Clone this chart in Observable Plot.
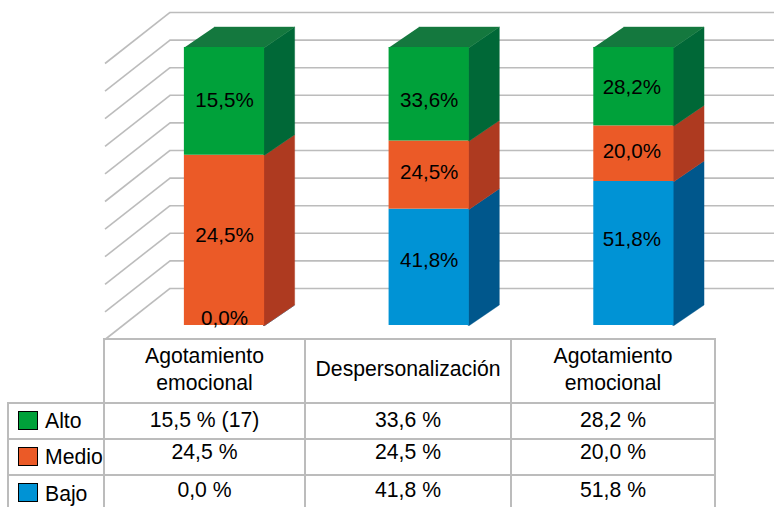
<!DOCTYPE html>
<html>
<head>
<meta charset="utf-8">
<script src="https://cdn.jsdelivr.net/npm/d3@7"></script>
<script src="https://cdn.jsdelivr.net/npm/@observablehq/plot@0.6"></script>
<style>
  html, body { margin: 0; padding: 0; background: #fff; overflow: hidden; }
  body { width: 774px; height: 507px; font-family: "Liberation Sans", Arial, sans-serif; color: #000; }
  svg { display: block; }
  table { border-collapse: collapse; table-layout: fixed; width: 707px; margin: -1.5px 0 0 7px; font-size: 21.2px; }
  td { border: 2px solid #bcbcbc; padding: 0; text-align: center; white-space: nowrap; line-height: 27px; box-sizing: border-box; overflow: visible; }
  td.blank { border-top: none; border-left: none; }
  td.legend { text-align: left; padding-left: 9px; }
  .swatch { display: inline-block; width: 18px; height: 17px; border: 1px solid #000; margin-right: 7px; vertical-align: -2px; box-sizing: content-box; }
  tr.head { height: 64px; }
  tr.row { height: 36px; }
  .head span { position: relative; top: -2px; }
  .r0 { position: relative; top: -1px; }
  .r1 { position: relative; top: -5px; }
  .r2 { position: relative; top: -3px; }
  .key2 { position: relative; top: 1px; }
</style>
</head>
<body>
<div id="chart"></div>
<table id="tbl"></table>
<script>
// ---------- data ----------
const categories = ["Agotamiento\nemocional", "Despersonalización", "Agotamiento\nemocional"];
const levels = ["Alto", "Medio", "Bajo"];
const alto  = [15.5, 33.6, 28.2];
const medio = [24.5, 24.5, 20.0];
const bajo  = [0.0, 41.8, 51.8];
const altoTableText  = ["15,5 % (17)", "33,6 %", "28,2 %"];
const medioTableText = ["24,5 %", "24,5 %", "20,0 %"];
const bajoTableText  = ["0,0 %", "41,8 %", "51,8 %"];
const gridTicks = [0, 10, 20, 30, 40, 50, 60, 70, 80, 90, 100];

// ---------- styles ----------
const frontColor = {Alto: "#00a13a", Medio: "#eb5a27", Bajo: "#0093d5"};
const sideColor  = {Alto: "#006837", Medio: "#ae3a20", Bajo: "#00578c"};
const topColor = "#14783e";
const gridColor = "#bcbcbc";

// ---------- layout, in scale units ----------
const W = 774, H = 339;
const halfBar = 0.196, depthX = 0.1466, depthY = 7.37;       // bar width and 3D depth
const seamOverlap = 0.006;                                   // side face tucks under the front face
const wallX = -0.2662, floorDepthX = 0.3175, floorDepthY = 18.35;
const wallBase = 13.31, wallScale = 0.9928;
const xDomain = [-1.0943, 2.6868], yDomain = [-5.04, 116.9];
const unitsPerPixel = 1 / 2.78;
// label shifts from the segment middle: [Alto, Medio, Bajo] per bar (pixels, + is down)
const labelNudge = [[-1, -5, -7], [6, -3, -7], [1, -2, -14]];
const labelNudgeX = [0, 0, -0.01];

// ---------- derived stacks (each bar is drawn as share of its own total) ----------
const series = {Alto: alto, Medio: medio, Bajo: bajo};
const segments = [];
categories.forEach((_, i) => {
  const total = alto[i] + medio[i] + bajo[i];
  let base = 0;
  ["Bajo", "Medio", "Alto"].forEach(level => {
    const v = series[level][i];
    const y1 = base, y2 = base + v / total * 100;
    segments.push({i, level, v, y1, y2});
    base = y2;
  });
});

const polygons = [];
segments.forEach(s => {
  const xr = s.i + halfBar, xl = s.i - halfBar;
  const id = `${s.i}-${s.level}`;
  [[xr - seamOverlap, s.y1], [xr, s.y1], [xr + depthX, s.y1 + depthY], [xr + depthX, s.y2 + depthY], [xr, s.y2], [xr - seamOverlap, s.y2]]
    .forEach(([x, y]) => polygons.push({id: "side" + id, x, y, color: sideColor[s.level]}));
  if (s.level === "Alto") {
    [[xl, s.y2], [xr, s.y2], [xr + depthX, s.y2 + depthY], [xl + depthX, s.y2 + depthY]]
      .forEach(([x, y]) => polygons.push({id: "top" + id, x, y, color: topColor}));
  }
});

const fmt = v => d3.format(".1f")(v).replace(".", ",") + "%";
const wall = t => wallBase + t * wallScale;

const chart = Plot.plot({
  width: W, height: H,
  marginTop: 0, marginRight: 0, marginBottom: 0, marginLeft: 0,
  style: {fontFamily: '"Liberation Sans", Arial, sans-serif', background: "transparent", overflow: "visible"},
  x: {type: "linear", domain: xDomain, range: [0, W], axis: null},
  y: {type: "linear", domain: yDomain, range: [H, 0], axis: null},
  color: {type: "identity"},
  marks: [
    Plot.ruleY(gridTicks, {y: wall, x1: wallX, x2: xDomain[1], stroke: gridColor, strokeWidth: 1.6}),
    Plot.link(gridTicks, {
      x1: wallX, y1: wall,
      x2: wallX - floorDepthX, y2: t => wall(t) - floorDepthY,
      stroke: gridColor, strokeWidth: 1.6
    }),
    Plot.line(polygons, {x: "x", y: "y", z: "id", fill: "color", stroke: "color", strokeWidth: 0.4}),
    Plot.rect(segments, {
      x1: d => d.i - halfBar, x2: d => d.i + halfBar,
      y1: "y1", y2: "y2",
      fill: d => frontColor[d.level]
    }),
    Plot.text(segments, {
      x: d => d.i + labelNudgeX[d.i],
      y: d => {
        const k = ["Alto", "Medio", "Bajo"].indexOf(d.level);
        return (d.y1 + d.y2) / 2 - labelNudge[d.i][k] * unitsPerPixel;
      },
      text: d => fmt(d.v),
      fill: "#000", fontSize: 20.6, textAnchor: "middle", lineAnchor: "middle"
    })
  ]
});
document.getElementById("chart").append(chart);

// ---------- data table with legend keys ----------
const table = d3.select("#tbl");
const colgroup = table.append("colgroup");
[96, 201, 206, 204].forEach(w => colgroup.append("col").style("width", w + "px"));
const head = table.append("tr").attr("class", "head");
head.append("td").attr("class", "blank");
categories.forEach(c => head.append("td").append("span").html(c.replace("\n", "<br>")));
[altoTableText, medioTableText, bajoTableText].forEach((texts, r) => {
  const tr = table.append("tr").attr("class", "row");
  const level = levels[r];
  const key = tr.append("td").attr("class", "legend");
  key.append("span").attr("class", "swatch").style("background", frontColor[level]);
  key.append("span").attr("class", r === 2 ? "key2" : null).text(level);
  texts.forEach(t => tr.append("td").append("span").attr("class", "r" + r).text(t));
});
</script>
</body>
</html>
